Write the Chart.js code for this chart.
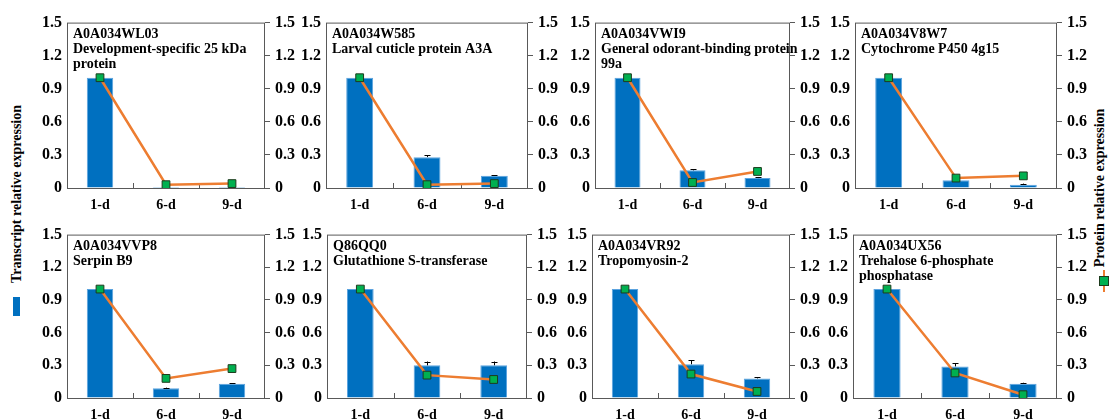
<!DOCTYPE html>
<html>
<head>
<meta charset="utf-8">
<script src="https://cdn.jsdelivr.net/npm/chart.js@4"></script>
<style>
  body { margin: 0; background: #fff; }
  #wrap { position: relative; width: 1111px; height: 420px; overflow: hidden; background: #fff; }
  canvas.panel { position: absolute; }
  .vlabel { position: absolute; font: bold 14px "Liberation Serif", "Times New Roman", serif; color: #000;
            white-space: nowrap; transform: translate(-50%, -50%) rotate(-90deg); }
</style>
</head>
<body>
<div id="wrap">
  <div class="vlabel" style="left:17px; top:194px;">Transcript relative expression</div>
  <div style="position:absolute; left:13px; top:297px; width:7px; height:19px; background:#0070C0;"></div>
  <div class="vlabel" style="left:1100px; top:188px;">Protein relative expression</div>
  <div style="position:absolute; left:1103px; top:270px; width:2px; height:22px; background:#ED7D31;"></div>
  <div style="position:absolute; left:1099px; top:276px; width:8px; height:8px; background:#00B050; border:1px solid #1d3b1d;"></div>
</div>
<script>
const categories = ['1-d', '6-d', '9-d'];
const proteinIds = ['A0A034WL03', 'A0A034W585', 'A0A034VWI9', 'A0A034V8W7',
                    'A0A034VVP8', 'Q86QQ0', 'A0A034VR92', 'A0A034UX56'];
const proteinNames = [
  ['Development-specific 25 kDa', 'protein'],
  ['Larval cuticle protein A3A'],
  ['General odorant-binding protein', '99a'],
  ['Cytochrome P450 4g15'],
  ['Serpin B9'],
  ['Glutathione S-transferase'],
  ['Tropomyosin-2'],
  ['Trehalose 6-phosphate', 'phosphatase']
];
// transcript (bars, left axis)
const transcript = [
  [1.0, 0.01, 0.01],
  [1.0, 0.28, 0.11],
  [1.0, 0.16, 0.09],
  [1.0, 0.07, 0.03],
  [1.0, 0.09, 0.13],
  [1.0, 0.30, 0.30],
  [1.0, 0.31, 0.18],
  [1.0, 0.29, 0.13]
];
const transcriptErr = [
  [0, 0.005, 0.005],
  [0, 0.015, 0.005],
  [0, 0.01, 0.01],
  [0, 0.005, 0.01],
  [0, 0.005, 0.005],
  [0, 0.035, 0.035],
  [0, 0.035, 0.01],
  [0, 0.03, 0.01]
];
// protein (line, right axis)
const protein = [
  [1.0, 0.03, 0.04],
  [1.0, 0.03, 0.04],
  [1.0, 0.05, 0.15],
  [1.0, 0.09, 0.11],
  [1.0, 0.18, 0.27],
  [1.0, 0.21, 0.17],
  [1.0, 0.22, 0.06],
  [1.0, 0.23, 0.03]
];

// plot boxes [left, top, right, bottom]
const boxes = [
  [67, 20, 265, 188], [326, 20, 528, 188], [595, 20, 790, 188], [855, 20, 1057, 188],
  [67, 232, 265, 398], [327, 232, 527, 398], [592, 232, 790, 398], [853, 232, 1057, 398]
];

const FONT = '"Liberation Serif", "Times New Roman", serif';
const AXIS = '#595959';
const PAD_SIDE = 45, PAD_TOP = 12, PAD_BOTTOM = 28;

const panelPlugin = {
  id: 'panel',
  beforeDatasetsDraw(chart) {
    const a = chart.chartArea, ctx = chart.ctx;
    ctx.save();
    ctx.strokeStyle = AXIS;
    ctx.lineWidth = 1;
    ctx.strokeRect(a.left + 0.5, a.top + 0.5, a.right - a.left - 1, a.bottom - a.top);
    // small inside ticks between categories
    const xs = chart.scales.x;
    ctx.beginPath();
    for (let i = 1; i < categories.length; i++) {
      const x = Math.round((xs.getPixelForValue(i - 1) + xs.getPixelForValue(i)) / 2) + 0.5;
      ctx.moveTo(x, a.bottom);
      ctx.lineTo(x, a.bottom - 5);
    }
    ctx.stroke();
    ctx.restore();
  },
  afterDatasetDraw(chart, args) {
    if (chart.data.datasets[args.index].type !== 'bar') return;
    const errs = chart.options.plugins.panel.errors;
    const ys = chart.scales.y, ctx = chart.ctx;
    ctx.save();
    ctx.strokeStyle = '#000';
    ctx.lineWidth = 1;
    args.meta.data.forEach((bar, i) => {
      if (!errs[i]) return;
      const v = chart.data.datasets[args.index].data[i];
      const y0 = ys.getPixelForValue(v), y1 = ys.getPixelForValue(v + errs[i]);
      const x = Math.round(bar.x) + 0.5;
      ctx.beginPath();
      ctx.moveTo(x, y0); ctx.lineTo(x, y1);
      ctx.moveTo(x - 3, Math.round(y1) + 0.5); ctx.lineTo(x + 3, Math.round(y1) + 0.5);
      ctx.stroke();
    });
    ctx.restore();
  },
  afterDraw(chart) {
    const o = chart.options.plugins.panel, a = chart.chartArea, ctx = chart.ctx;
    ctx.save();
    ctx.fillStyle = '#000';
    ctx.font = 'bold 14px ' + FONT;
    ctx.textBaseline = 'alphabetic';
    const lines = [o.id].concat(o.name);
    lines.forEach((t, i) => ctx.fillText(t, a.left + 6, a.top + 15 + i * 15));
    ctx.restore();
  }
};

const tickFmt = v => (Math.abs(v) < 1e-9 ? '0' : v.toFixed(1));
const tickFont = { family: FONT, size: 16, weight: 'bold' };

boxes.forEach((b, k) => {
  const cv = document.createElement('canvas');
  cv.className = 'panel';
  const w = b[2] - b[0] + 2 * PAD_SIDE, h = b[3] - b[1] + PAD_TOP + PAD_BOTTOM;
  cv.width = w; cv.height = h;
  cv.style.left = (b[0] - PAD_SIDE) + 'px';
  cv.style.top = (b[1] - PAD_TOP) + 'px';
  cv.style.width = w + 'px'; cv.style.height = h + 'px';
  document.getElementById('wrap').appendChild(cv);

  new Chart(cv.getContext('2d'), {
    data: {
      labels: categories,
      datasets: [
        {
          type: 'bar', label: 'Transcript relative expression', data: transcript[k], yAxisID: 'y',
          backgroundColor: '#0070C0', borderColor: '#5BA3DF', borderWidth: 1,
          categoryPercentage: 1, barPercentage: 0.4, order: 2
        },
        {
          type: 'line', label: 'Protein relative expression', data: protein[k], yAxisID: 'y1',
          borderColor: '#ED7D31', borderWidth: 2.5, tension: 0,
          pointStyle: 'rect', pointRadius: 5.5, pointBackgroundColor: '#00B050',
          pointBorderColor: '#1d3b1d', pointBorderWidth: 1, order: 1
        }
      ]
    },
    options: {
      responsive: false,
      animation: false,
      layout: { padding: { top: PAD_TOP, left: 0, right: 0, bottom: 0 } },
      plugins: {
        legend: { display: false },
        tooltip: { enabled: false },
        panel: { id: proteinIds[k], name: proteinNames[k], errors: transcriptErr[k] }
      },
      scales: {
        x: {
          offset: true,
          grid: { display: false, drawTicks: false },
          border: { display: false },
          ticks: { color: '#000', font: { family: FONT, size: 14, weight: 'bold' }, padding: 9, maxRotation: 0 },
          afterFit(s) { s.height = PAD_BOTTOM; }
        },
        y: {
          position: 'left', min: 0, max: 1.5,
          grid: { drawOnChartArea: false, drawTicks: false },
          border: { display: false },
          ticks: { stepSize: 0.3, color: '#000', padding: 5, callback: tickFmt, font: tickFont },
          afterFit(s) { s.width = PAD_SIDE; }
        },
        y1: {
          position: 'right', min: 0, max: 1.5,
          grid: { drawOnChartArea: false, drawTicks: true, tickLength: 5, color: AXIS },
          border: { display: false },
          ticks: { stepSize: 0.3, color: '#000', padding: 5, callback: tickFmt, font: tickFont },
          afterFit(s) { s.width = PAD_SIDE; }
        }
      }
    },
    plugins: [panelPlugin]
  });
});
</script>
</body>
</html>
